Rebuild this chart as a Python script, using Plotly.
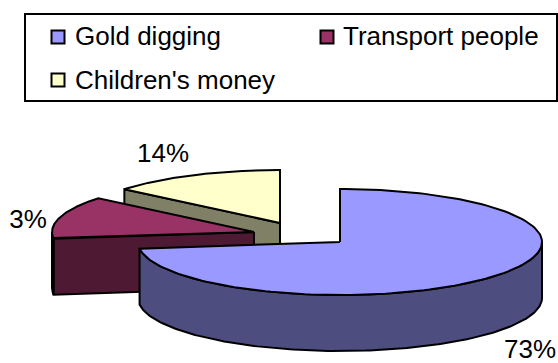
import numpy as np
import plotly.graph_objects as go

categories = ["Gold digging", "Transport people", "Children's money"]
slice_shares = [73, 13, 14]          # share of the circle each wedge covers
label_texts = ["73%", "3%", "14%"]   # printed labels, as in the reference
top_colors = ["#9999FF", "#993366", "#FFFFCC"]
side_colors = ["#4D4D80", "#4D1933", "#808066"]

# Layout in pixels of the 558x363 page
centres = [(340, 242), (254, 232), (280, 223)]
RX, RY, DEPTH = 202, 53, 56
label_pos = [(530, 351), (28, 221), (163, 155)]
legend_pos = [(58, 37), (327, 37), (58, 80)]
legend_text_x = [75, 343, 75]
legend_text_y = [38, 38, 82]
legend_box = (25, 14, 557, 101)
FONT = "Liberation Sans"
FS = 26
LABEL_FS = 26


def pt(c, deg):
    a = np.radians(deg)
    return c[0] + RX * np.sin(a), c[1] - RY * np.cos(a)


fig = go.Figure()


def poly(xs, ys, color):
    fig.add_trace(go.Scatter(x=list(xs) + [xs[0]], y=list(ys) + [ys[0]], mode="lines",
                             fill="toself", fillcolor=color,
                             line=dict(color="black", width=2), hoverinfo="skip",
                             showlegend=False))


starts = np.cumsum([0] + slice_shares[:-1]) * 3.6
ends = np.cumsum(slice_shares) * 3.6

for i in [2, 1, 0]:
    c = centres[i]
    s, e = starts[i], ends[i]
    ang = np.linspace(s, e, 160)
    ax, ay = pt(c, ang)
    # radial face that looks towards the viewer
    if i > 0:
        px, py = pt(c, s)
        poly([c[0], px, px, c[0]], [c[1], py, py + DEPTH, c[1] + DEPTH], side_colors[i])
    # outer rim, front half only
    fa = np.linspace(max(s, 90), min(e, 270), 160)
    if fa[-1] > fa[0]:
        fx, fy = pt(c, fa)
        poly(list(fx) + list(fx[::-1]), list(fy) + list(fy[::-1] + DEPTH), side_colors[i])
    # top surface
    poly([c[0]] + list(ax), [c[1]] + list(ay), top_colors[i])

# legend frame
fig.add_shape(type="rect", x0=legend_box[0], y0=legend_box[1], x1=legend_box[2], y1=legend_box[3],
              line=dict(color="black", width=2), fillcolor="white", layer="below")

# legend entries
for name, col, (lx, ly), tx, ty in zip(categories, top_colors, legend_pos, legend_text_x, legend_text_y):
    fig.add_trace(go.Scatter(x=[lx], y=[ly], mode="markers",
                             marker=dict(symbol="square", size=13, color=col,
                                         line=dict(color="black", width=2)),
                             hoverinfo="skip", showlegend=False))
    fig.add_trace(go.Scatter(x=[tx], y=[ty], mode="text", text=[name],
                             textposition="middle right",
                             textfont=dict(family=FONT, size=FS, color="black"),
                             hoverinfo="skip", showlegend=False, cliponaxis=False))

# percentage labels
for txt, (lx, ly) in zip(label_texts, label_pos):
    fig.add_trace(go.Scatter(x=[lx], y=[ly], mode="text", text=[txt], textposition="middle center",
                             textfont=dict(family=FONT, size=LABEL_FS, color="black"),
                             hoverinfo="skip", showlegend=False, cliponaxis=False))

fig.update_layout(width=558, height=363, margin=dict(l=0, r=0, t=0, b=0), autosize=False,
                  paper_bgcolor="white", plot_bgcolor="white", showlegend=False,
                  xaxis=dict(range=[0, 558], visible=False, fixedrange=True),
                  yaxis=dict(range=[363, 0], visible=False, fixedrange=True))
fig.write_html("out.html", config={"displayModeBar": False},
               post_script="document.body.style.margin='0';document.documentElement.style.overflow='hidden';")
